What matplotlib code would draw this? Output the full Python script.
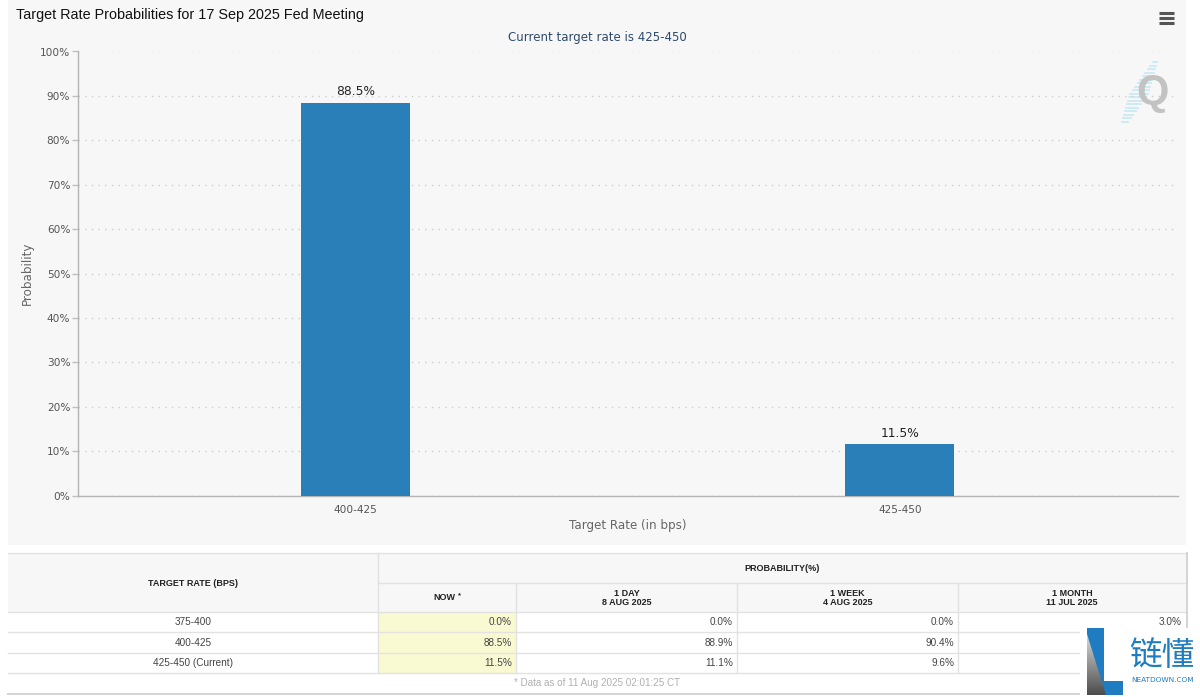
import matplotlib
matplotlib.use("Agg")
import matplotlib.pyplot as plt
import numpy as np
from matplotlib.patches import Rectangle, Polygon

rates = ["400-425", "425-450"]
probs = [88.5, 11.5]
yticks = [0, 10, 20, 30, 40, 50, 60, 70, 80, 90, 100]

table_rows = ["375-400", "400-425", "425-450 (Current)"]
now = ["0.0%", "88.5%", "11.5%"]
one_day = ["0.0%", "88.9%", "11.1%"]
one_week = ["0.0%", "90.4%", "9.6%"]
# the two lower 1 month cells are hidden by the logo in the picture
one_month = ["3.0%", "", ""]
col_heads = ["NOW", "1 DAY\n8 AUG 2025", "1 WEEK\n4 AUG 2025", "1 MONTH\n11 JUL 2025"]

W, H = 1200, 697
SANS = "Liberation Sans"
BLUE = "#2a7fb8"
LOGO_BLUE = "#1f7cc0"

fig = plt.figure(figsize=(W / 100, H / 100), dpi=100, facecolor="white")

# overlay in pixel coords for panel, table and logos
bg = fig.add_axes([0, 0, 1, 1], zorder=0)
bg.set_xlim(0, W)
bg.set_ylim(H, 0)
bg.axis("off")
bg.add_patch(Rectangle((8, 0), 1178, 545, fc="#f7f7f7", ec="none"))

# chart
ax = fig.add_axes([78 / W, 1 - 495.5 / H, 1100 / W, 444 / H], zorder=2)
ax.patch.set_alpha(0)
x = np.arange(len(rates))
ax.bar(x, probs, width=0.2, color=BLUE, zorder=3)
ax.set_xlim(-0.5096, 1.511)
ax.set_ylim(0, 100)
ax.set_yticks(yticks)
ax.set_yticklabels([f"{v}%" for v in yticks], fontsize=7.6, color="#555555")
ax.set_xticks(x)
ax.set_xticklabels(rates, fontsize=7.6, color="#555555")
ax.tick_params(axis="x", length=0, pad=6.5)
ax.tick_params(axis="y", length=4, width=1, color="#c0c0c0", pad=1.5)
ax.grid(axis="y", color="#cccccc", linewidth=1, linestyle=(0, (1, 3.8)), zorder=1)
ax.set_axisbelow(True)
for side in ["top", "right"]:
    ax.spines[side].set_visible(False)
for side in ["left", "bottom"]:
    ax.spines[side].set_color("#b4b4b4")
    ax.spines[side].set_linewidth(1)
for xi, p in zip(x, probs):
    ax.annotate(f"{p}%", (xi, p), xytext=(0, 3.5), textcoords="offset points",
                ha="center", va="bottom", fontsize=8.8, color="#222222")

bg.text(628, 526, "Target Rate (in bps)", fontsize=8.6, color="#666666", ha="center", va="center")
bg.text(27.5, 273, "Probability", fontsize=8.6, color="#666666", rotation=90, ha="center", va="center")
bg.text(16, 15, "Target Rate Probabilities for 17 Sep 2025 Fed Meeting", family=SANS,
        fontsize=10.35, color="#111111", va="center")
bg.text(597, 37, "Current target rate is 425-450", fontsize=8.5, color="#2f4a6b",
        ha="center", va="center")

# menu icon
for yy in [12.5, 17.5, 22.5]:
    bg.plot([1159, 1174], [yy, yy], color="#555555", lw=2.2, solid_capstyle="butt")

# Q logo
for i in range(18):
    yy = 62 + i * 3.5
    cx = 1155 - i * 1.75
    half = 2 + 7 * (1 - abs(i - 9) / 9)
    bg.plot([cx - half, cx + half], [yy, yy], color="#c6e8f3", lw=1.2, zorder=3)
bg.text(1152, 93, "Q", family=SANS, fontweight="bold", fontsize=30, color="#c3c3c3",
        ha="center", va="center", zorder=4)

# table
cols = [8, 378, 516, 737, 958, 1186]
rows = [553, 583, 612, 632, 653, 673, 693]
LINE = "#e2e2e2"
bg.add_patch(Rectangle((cols[0], rows[0]), cols[-1] - cols[0], rows[2] - rows[0], fc="#f7f7f7", ec="none"))
bg.add_patch(Rectangle((cols[1], rows[2]), cols[2] - cols[1], rows[5] - rows[2], fc="#fafad2", ec="none"))
bg.plot([cols[0], cols[-1]], [rows[0], rows[0]], color=LINE, lw=1)
bg.plot([cols[1], cols[-1]], [rows[1], rows[1]], color=LINE, lw=1)
for yy in rows[2:6]:
    bg.plot([cols[0], cols[-1]], [yy, yy], color=LINE, lw=1)
bg.plot([cols[1], cols[1]], [rows[0], rows[5]], color=LINE, lw=1)
for xx in cols[2:5]:
    bg.plot([xx, xx], [rows[1], rows[5]], color=LINE, lw=1)
# soft shadow on right and bottom
bg.plot([cols[-1] + 1, cols[-1] + 1], [rows[0], rows[6] + 1], color="#d4d4d4", lw=1.4)
bg.plot([cols[0], cols[-1] + 1], [rows[6] + 1, rows[6] + 1], color="#d4d4d4", lw=1.4)

head = dict(family=SANS, fontsize=6.5, fontweight="bold", color="#222222",
            ha="center", va="center", linespacing=1.1)
bg.text((cols[0] + cols[1]) / 2, 583, "TARGET RATE (BPS)", **head)
bg.text((cols[1] + cols[-1]) / 2, 568.5, "PROBABILITY(%)", **head)
for j, label in enumerate(col_heads):
    bg.text((cols[j + 1] + cols[j + 2]) / 2 - (3 if j == 0 else 0), 598, label, **head)
bg.text(459, 596, "*", family=SANS, fontsize=5.5, fontweight="bold", color="#222222",
        ha="center", va="center")

cell = dict(family=SANS, fontsize=7.2, color="#444444", va="center")
for i, name in enumerate(table_rows):
    yy = (rows[i + 2] + rows[i + 3]) / 2
    bg.text((cols[0] + cols[1]) / 2, yy, name, ha="center", **cell)
    for j, vals in enumerate([now, one_day, one_week, one_month]):
        if vals[i]:
            bg.text(cols[j + 2] - 4, yy, vals[i], ha="right", **cell)
bg.text(597, 683.5, "* Data as of 11 Aug 2025 02:01:25 CT", family=SANS, fontsize=7.1,
        color="#b0b0b0", ha="center", va="center")

# neatdown logo, white patch over the table corner
top = fig.add_axes([0, 0, 1, 1], zorder=5)
top.set_xlim(0, W)
top.set_ylim(H, 0)
top.axis("off")
top.patch.set_alpha(0)
top.add_patch(Rectangle((1080, 628), 120, 69, fc="white", ec="none"))
top.add_patch(Polygon([(1087, 628), (1104, 628), (1104, 681), (1123, 681), (1123, 695),
                       (1087, 695)], fc=LOGO_BLUE, ec="none"))
grad = np.linspace(0.85, 0.3, 64).reshape(-1, 1)
im = top.imshow(grad, extent=(1087, 1106, 695, 634), cmap="gray", vmin=0, vmax=1,
                aspect="auto", zorder=3)
im.set_clip_path(Polygon([(1087, 634), (1087, 695), (1106, 695)], transform=top.transData))
top.set_xlim(0, W)
top.set_ylim(H, 0)
top.text(1161.5, 656, "链懂", family=["Noto Sans CJK SC", "DejaVu Sans"], fontsize=23.5,
         fontweight=500, color=LOGO_BLUE, ha="center", va="center")
top.text(1162.5, 680, "NEATDOWN.COM", family="DejaVu Sans", fontsize=5.3, color=LOGO_BLUE,
         ha="center", va="center")

fig.savefig("out.png", dpi=100)
